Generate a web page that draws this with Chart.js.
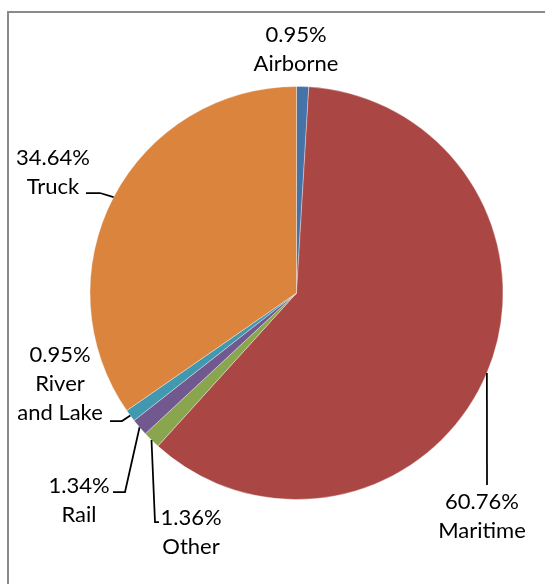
<!DOCTYPE html>
<html>
<head>
<meta charset="utf-8">
<script src="https://cdn.jsdelivr.net/npm/chart.js@4"></script>
<style>
  html, body { margin: 0; padding: 0; background: #fff; }
  #wrap { width: 545px; height: 584px; position: relative; }
</style>
</head>
<body>
<div id="wrap"><canvas id="pieChart"></canvas></div>
<script>
// Define the data
const categories = ["Airborne", "Maritime", "Other", "Rail", "River and Lake", "Truck"];
const shares = [0.95, 60.76, 1.36, 1.34, 0.95, 34.64];
const colors = ["#4572A7", "#AA4643", "#89A54E", "#71588F", "#4198AF", "#DB843D"];

// label text lines per category (the name may wrap)
const nameLines = [["Airborne"], ["Maritime"], ["Other"], ["Rail"], ["River", "and Lake"], ["Truck"]];

// where each label sits and how its leader line bends
const labelLayout = [
  { x: 296, y: 35, leader: null },
  { x: 482, y: 502, leader: [[487, 485]] },
  { x: 191, y: 518, leader: [[155, 522], [159, 522]] },
  { x: 79, y: 486, leader: [[125, 492], [113, 492]] },
  { x: 60, y: 355, leader: [[122, 421], [110, 421]] },
  { x: 53, y: 158, leader: [[100, 193], [86, 193]] }
];

const FONT = '22px Lato, "Liberation Sans", sans-serif';
const LINE_H = 29;

const frameAndLabels = {
  id: 'frameAndLabels',
  afterDraw(chart) {
    const ctx = chart.ctx;
    ctx.save();
    // outer frame
    ctx.strokeStyle = '#8a8a8a';
    ctx.lineWidth = 2;
    ctx.strokeRect(8, 12, 560, 600);

    const meta = chart.getDatasetMeta(0);
    meta.data.forEach((arc, i) => {
      const mid = (arc.startAngle + arc.endAngle) / 2;
      const ax = arc.x + Math.cos(mid) * arc.outerRadius;
      const ay = arc.y + Math.sin(mid) * arc.outerRadius;
      const lay = labelLayout[i];
      if (lay.leader) {
        ctx.strokeStyle = '#000';
        ctx.lineWidth = 1.75;
        ctx.beginPath();
        ctx.moveTo(ax, ay);
        lay.leader.forEach(p => ctx.lineTo(p[0], p[1]));
        ctx.stroke();
      }
      const lines = [shares[i].toFixed(2) + '%'].concat(nameLines[i]);
      ctx.fillStyle = '#000';
      ctx.font = FONT;
      ctx.textAlign = 'center';
      ctx.textBaseline = 'middle';
      lines.forEach((t, k) => ctx.fillText(t, lay.x, lay.y + k * LINE_H));
    });
    ctx.restore();
  }
};

const ctx_pie = document.getElementById('pieChart').getContext('2d');

new Chart(ctx_pie, {
  type: 'pie',
  data: {
    labels: categories,
    datasets: [{
      data: shares,
      backgroundColor: colors,
      borderColor: 'rgba(255,255,255,0.35)',
      borderWidth: 1
    }]
  },
  options: {
    responsive: true,
    maintainAspectRatio: false,
    animation: false,
    layout: {
      padding: { left: 89.5, right: 41.5, top: 86, bottom: 84 }
    },
    plugins: {
      legend: { display: false },
      tooltip: { enabled: false }
    }
  },
  plugins: [frameAndLabels]
});
</script>
</body>
</html>
